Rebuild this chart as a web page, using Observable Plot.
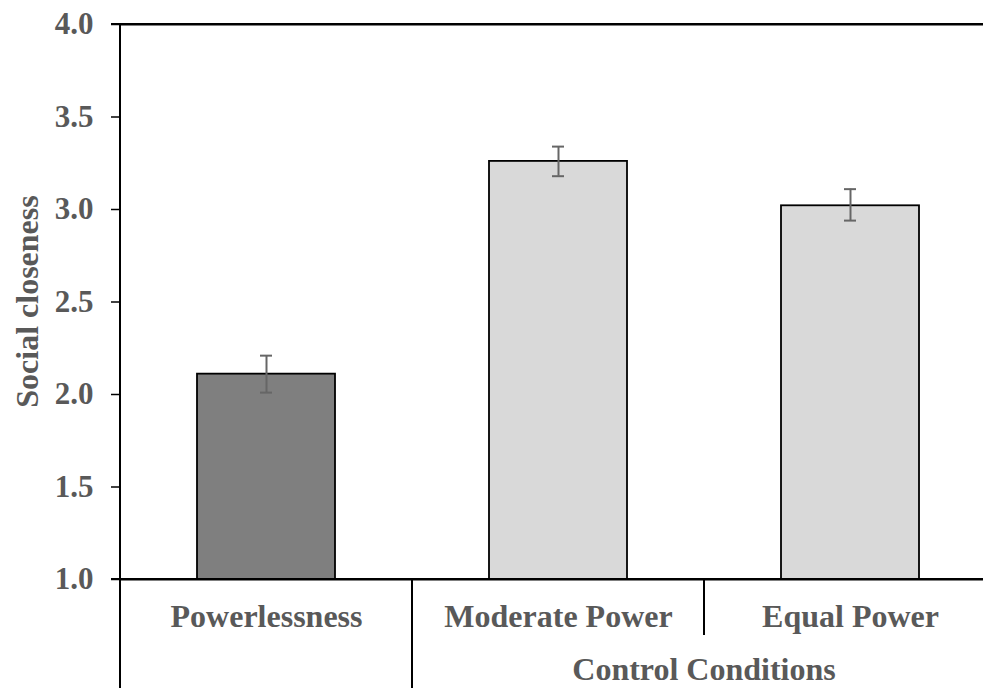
<!DOCTYPE html>
<html>
<head>
<meta charset="utf-8">
<script src="https://cdn.jsdelivr.net/npm/d3@7"></script>
<script src="https://cdn.jsdelivr.net/npm/@observablehq/plot@0.6"></script>
<style>
  html, body { margin: 0; padding: 0; background: #fff; }
  #chart svg { display: block; }
</style>
</head>
<body>
<div id="chart"></div>
<script>
const categories = ["Powerlessness", "Moderate Power", "Equal Power"];
const means = [2.11, 3.26, 3.02];
const lower = [2.01, 3.18, 2.94];
const upper = [2.21, 3.34, 3.11];
const yTicks = [1.0, 1.5, 2.0, 2.5, 3.0, 3.5, 4.0];
const groupLabel = "Control Conditions";
const yLabel = "Social closeness";

const data = categories.map((c, i) => ({cat: c, mean: means[i], lo: lower[i], hi: upper[i], kind: i === 0 ? "main" : "control"}));

const textColor = "#595959";
const font = "'Liberation Serif', 'Times New Roman', serif";

const plot = Plot.plot({
  width: 983,
  height: 688,
  marginLeft: 120,
  marginRight: -13,
  marginTop: 24,
  marginBottom: 109,
  style: {fontFamily: font, fontWeight: "bold", color: textColor, background: "#fff"},
  x: {domain: categories, paddingInner: 0.527, paddingOuter: 0.2635},
  y: {domain: [1, 4]},
  color: {domain: ["main", "control"], range: ["#7f7f7f", "#d9d9d9"]},
  marks: [
    Plot.barY(data, {x: "cat", y1: 1, y2: "mean", fill: "kind", stroke: "#000", strokeWidth: 1.8}),
    Plot.ruleX(data, {x: "cat", y1: "lo", y2: "hi", stroke: "#666", strokeWidth: 2}),
    Plot.tickY(data, {x: "cat", y: "lo", stroke: "#666", strokeWidth: 2, inset: (138 - 12) / 2}),
    Plot.tickY(data, {x: "cat", y: "hi", stroke: "#666", strokeWidth: 2, inset: (138 - 12) / 2}),
    Plot.axisY({ticks: yTicks, tickFormat: d3.format(".1f"), tickSize: 9, tickPadding: 18, fontSize: 31, fontWeight: "bold", fill: textColor, stroke: "#000", strokeWidth: 1.5, label: null}),
    Plot.axisX({tickSize: 0, tickPadding: 25, fontSize: 32, fontWeight: "bold", fill: textColor, label: null}),
    Plot.ruleY([1, 4], {stroke: "#000", strokeWidth: 2.2, clip: false})
  ]
});

const svg = d3.select(plot);
const xs = plot.scale("x");
const ys = plot.scale("y");
const step = xs.step;
const bw = xs.bandwidth;
const left = xs.apply(categories[0]) - (step - bw) / 2;
const b1 = xs.apply(categories[1]) - (step - bw) / 2;
const b2 = xs.apply(categories[2]) - (step - bw) / 2;
const y0 = ys.apply(1);
const yTop = ys.apply(4);

// extend frame lines to tick start and right edge
svg.append("line").attr("x1", left - 9).attr("x2", 983).attr("y1", y0).attr("y2", y0).attr("stroke", "#000").attr("stroke-width", 2.2);
svg.append("line").attr("x1", left - 9).attr("x2", 983).attr("y1", yTop).attr("y2", yTop).attr("stroke", "#000").attr("stroke-width", 2.2);
// left axis line, extending below
svg.append("line").attr("x1", left).attr("x2", left).attr("y1", yTop).attr("y2", 688).attr("stroke", "#000").attr("stroke-width", 2);
// group separators
svg.append("line").attr("x1", b1).attr("x2", b1).attr("y1", y0).attr("y2", 688).attr("stroke", "#000").attr("stroke-width", 2);
svg.append("line").attr("x1", b2).attr("x2", b2).attr("y1", y0).attr("y2", y0 + 56).attr("stroke", "#000").attr("stroke-width", 2);
// group label
svg.append("text").attr("x", b2).attr("y", 680).attr("text-anchor", "middle")
  .attr("font-family", font).attr("font-weight", "bold").attr("font-size", 32).attr("fill", textColor).text(groupLabel);
// y label
svg.append("text").attr("transform", `translate(38, ${(y0 + yTop) / 2}) rotate(-90)`).attr("text-anchor", "middle")
  .attr("font-family", font).attr("font-weight", "bold").attr("font-size", 32).attr("fill", textColor).text(yLabel);

document.getElementById("chart").appendChild(plot);
</script>
</body>
</html>
